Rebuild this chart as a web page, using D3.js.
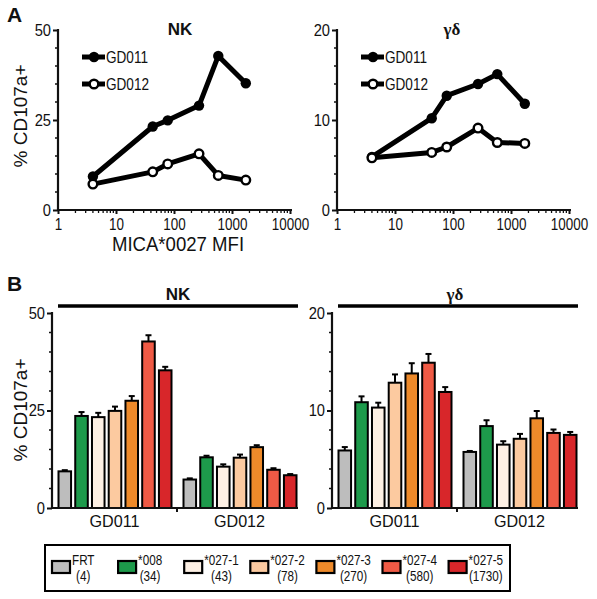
<!DOCTYPE html>
<html><head><meta charset="utf-8">
<script src="https://cdn.jsdelivr.net/npm/d3@7"></script>
<style>
body{margin:0;background:#fff}
text{font-family:"Liberation Sans",Arial,sans-serif;fill:#111}
</style>
</head><body>
<svg id="c" width="597" height="599"></svg>
<script>
// ---------- DATA ----------
const mfiX = [4, 43, 78, 270, 580, 1730];
const nkLine011 = [9.3, 23.2, 24.9, 29.0, 42.8, 35.2];
const nkLine012 = [7.2, 10.6, 12.8, 15.6, 9.6, 8.3];
const gdLine011 = [5.9, 10.2, 12.7, 14.0, 15.1, 11.8];
const gdLine012 = [5.8, 6.4, 7.0, 9.1, 7.5, 7.4];
const logTicks = [1, 10, 100, 1000, 10000];

const categories = ["FRT", "*008", "*027-1", "*027-2", "*027-3", "*027-4", "*027-5"];
const mfiLabels = ["(4)", "(34)", "(43)", "(78)", "(270)", "(580)", "(1730)"];
const donors = ["GD011", "GD012"];
const colors = ["#bdbdbd", "#1d9a4b", "#fdf0e4", "#fccaa0", "#ee8a2a", "#ef5a45", "#d8262a"];

const nkBar011 = [9.4, 23.6, 23.3, 24.9, 27.5, 42.7, 35.3];
const nkErr011 = [0.3, 1.0, 1.1, 1.1, 1.2, 1.6, 0.9];
const nkBar012 = [7.3, 13.0, 10.6, 12.9, 15.6, 9.8, 8.4];
const nkErr012 = [0.3, 0.4, 0.6, 0.8, 0.5, 0.4, 0.3];
const gdBar011 = [5.9, 10.85, 10.3, 12.85, 13.8, 14.9, 11.9];
const gdErr011 = [0.35, 0.6, 0.5, 0.85, 1.05, 0.9, 0.5];
const gdBar012 = [5.75, 8.4, 6.5, 7.1, 9.2, 7.7, 7.5];
const gdErr012 = [0.1, 0.6, 0.35, 0.5, 0.75, 0.35, 0.3];

const nkTicks = [0, 25, 50];
const gdTicks = [0, 10, 20];

// ---------- DRAW ----------
const svg = d3.select("#c");

function T(parent, x, y, str, size, sx, anchor, weight, family) {
  const t = parent.append("text")
    .attr("transform", `translate(${x},${y}) scale(${sx},1)`)
    .attr("text-anchor", anchor || "start")
    .style("font-size", size + "px")
    .text(str);
  if (weight) t.style("font-weight", weight);
  if (family) t.style("font-family", family);
  return t;
}

function squeezeAxisText(sel, fs, sx) {
  sel.selectAll("text").each(function () {
    const t = d3.select(this);
    const x = +t.attr("x") || 0, y = +t.attr("y") || 0;
    t.attr("x", 0).attr("y", 0)
      .attr("transform", `translate(${x},${y}) scale(${sx},1)`)
      .style("font-size", fs + "px").attr("fill", "#111");
  });
}

function yAxis(g, y, x0, majors, minorStep, max) {
  const minors = d3.range(0, max + 0.001, minorStep).filter(v => !majors.includes(v));
  const ax = d3.axisLeft(y).tickValues(majors).tickSize(5).tickPadding(2).tickFormat(d3.format("d"));
  const a = g.append("g").attr("transform", `translate(${x0},0)`).call(ax);
  a.select(".domain").remove();
  a.selectAll("line").attr("stroke", "#111").attr("stroke-width", 2);
  squeezeAxisText(a, 16, 0.92);
  g.append("g").selectAll("line").data(minors).join("line")
    .attr("x1", x0 - 3).attr("x2", x0).attr("y1", d => y(d)).attr("y2", d => y(d))
    .attr("stroke", "#111").attr("stroke-width", 1.5);
  g.append("line").attr("x1", x0).attr("x2", x0)
    .attr("y1", y(0) + 1).attr("y2", y(max) - 1)
    .attr("stroke", "#111").attr("stroke-width", 2.2);
}

function linePanel(x0, yMax, majors, minorStep, s1, s2, title, titleX, titleFamily) {
  const g = svg.append("g");
  const xs = d3.scaleLog().domain([1, 10000]).range([x0, x0 + 232]);
  const ys = d3.scaleLinear().domain([0, yMax]).range([210, 30]);
  yAxis(g, ys, x0, majors, minorStep, yMax);
  const ax = d3.axisBottom(xs).tickValues(logTicks).tickSize(4).tickPadding(5).tickFormat(d3.format("d"));
  const a = g.append("g").attr("transform", "translate(0,210)").call(ax);
  a.select(".domain").remove();
  a.selectAll("line").attr("stroke", "#111").attr("stroke-width", 2);
  squeezeAxisText(a, 16, 0.84);
  const minors = [];
  for (let d = 1; d < 10000; d *= 10) for (let k = 2; k <= 9; k++) minors.push(d * k);
  g.append("g").selectAll("line").data(minors).join("line")
    .attr("x1", d => xs(d)).attr("x2", d => xs(d)).attr("y1", 210).attr("y2", 213)
    .attr("stroke", "#111").attr("stroke-width", 1.3);
  g.append("line").attr("x1", x0 - 1).attr("x2", x0 + 234).attr("y1", 210).attr("y2", 210)
    .attr("stroke", "#111").attr("stroke-width", 2.2);

  const line = d3.line().x((d, i) => xs(mfiX[i])).y(d => ys(d));
  [s1, s2].forEach(s => {
    g.append("path").datum(s).attr("d", line).attr("fill", "none")
      .attr("stroke", "#000").attr("stroke-width", 5).attr("stroke-linejoin", "round");
  });
  [s1, s2].forEach((s, k) => {
    g.append("g").selectAll("circle").data(s).join("circle")
      .attr("cx", (d, i) => xs(mfiX[i])).attr("cy", d => ys(d))
      .attr("r", k === 0 ? 5.2 : 4.3)
      .attr("fill", k === 0 ? "#000" : "#fff")
      .attr("stroke", "#000").attr("stroke-width", k === 0 ? 0 : 2.4);
  });
  const lx = x0 + 24;
  donors.forEach((dn, k) => {
    const ly = 57 + k * 27;
    g.append("line").attr("x1", lx).attr("x2", lx + 23).attr("y1", ly).attr("y2", ly)
      .attr("stroke", "#000").attr("stroke-width", 5);
    g.append("circle").attr("cx", lx + 12).attr("cy", ly)
      .attr("r", k === 0 ? 5.2 : 4.3).attr("fill", k === 0 ? "#000" : "#fff")
      .attr("stroke", "#000").attr("stroke-width", k === 0 ? 0 : 2.4);
    T(g, lx + 24, ly + 6, dn, 16, 0.85);
  });
  T(g, titleX, 35, title, 17, 1, "middle", "bold", titleFamily);
}

function barPanel(x0, yMax, majors, minorStep, v1, e1, v2, e2, title, titleX, titleFamily) {
  const g = svg.append("g");
  const ys = d3.scaleLinear().domain([0, yMax]).range([508, 313]);
  const xg = d3.scaleBand().domain(donors).range([x0, x0 + 250]);
  const xb = d3.scaleBand().domain(categories).range([5.5, 120.5]).paddingInner(0.13);
  yAxis(g, ys, x0, majors, minorStep, yMax);
  const vals = [v1, v2], errs = [e1, e2];
  donors.forEach((dn, gi) => {
    const gg = g.append("g").attr("transform", `translate(${xg(dn)},0)`);
    const bw = xb.bandwidth();
    gg.selectAll("rect").data(vals[gi]).join("rect")
      .attr("x", (d, i) => xb(categories[i]) + 1).attr("width", bw - 2)
      .attr("y", d => ys(d)).attr("height", d => ys(0) - ys(d))
      .attr("fill", (d, i) => colors[i]).attr("stroke", "#000").attr("stroke-width", 2);
    gg.selectAll("line.eb").data(vals[gi]).join("line").attr("class", "eb")
      .attr("x1", (d, i) => xb(categories[i]) + bw / 2).attr("x2", (d, i) => xb(categories[i]) + bw / 2)
      .attr("y1", d => ys(d)).attr("y2", (d, i) => ys(d + errs[gi][i]))
      .attr("stroke", "#000").attr("stroke-width", 2);
    gg.selectAll("line.cap").data(vals[gi]).join("line").attr("class", "cap")
      .attr("x1", (d, i) => xb(categories[i]) + bw / 2 - 3).attr("x2", (d, i) => xb(categories[i]) + bw / 2 + 3)
      .attr("y1", (d, i) => ys(d + errs[gi][i])).attr("y2", (d, i) => ys(d + errs[gi][i]))
      .attr("stroke", "#000").attr("stroke-width", 2);
    T(gg, xg.bandwidth() / 2, 527, dn, 17, 0.95, "middle");
  });
  g.append("line").attr("x1", x0 - 1).attr("x2", x0 + 246).attr("y1", 508).attr("y2", 508)
    .attr("stroke", "#111").attr("stroke-width", 2.2);
  g.append("line").attr("x1", xg("GD012")).attr("x2", xg("GD012")).attr("y1", 508).attr("y2", 512)
    .attr("stroke", "#111").attr("stroke-width", 2);
  g.append("line").attr("x1", x0 + 6).attr("x2", x0 + 246).attr("y1", 306).attr("y2", 306)
    .attr("stroke", "#000").attr("stroke-width", 3.5);
  T(g, titleX, 300, title, 17, 1, "middle", "bold", titleFamily);
}

const GREEK = "'Liberation Serif','DejaVu Serif',serif";
linePanel(58, 50, nkTicks, 5, nkLine011, nkLine012, "NK", 180);
linePanel(337, 20, gdTicks, 2, gdLine011, gdLine012, "γδ", 452, GREEK);
barPanel(52, 50, nkTicks, 5, nkBar011, nkErr011, nkBar012, nkErr012, "NK", 178);
barPanel(332, 20, gdTicks, 2, gdBar011, gdErr011, gdBar012, gdErr012, "γδ", 455, GREEK);

// axis titles
svg.append("text").attr("transform", "translate(27,116) rotate(-90)").attr("text-anchor", "middle")
  .style("font-size", "19px").text("% CD107a+");
svg.append("text").attr("transform", "translate(27,410) rotate(-90)").attr("text-anchor", "middle")
  .style("font-size", "19px").text("% CD107a+");
T(svg, 178, 251, "MICA*0027 MFI", 20, 0.93, "middle");
T(svg, 7, 22, "A", 21, 1, "start", "bold");
T(svg, 7, 291, "B", 21, 1, "start", "bold");

// legend
const leg = svg.append("g");
leg.append("rect").attr("x", 45).attr("y", 545).attr("width", 465).attr("height", 46)
  .attr("fill", "#fff").attr("stroke", "#000").attr("stroke-width", 2);
const lxs = d3.scaleBand().domain(categories).range([52, 52 + 66.1 * 7]);
const LSX = 0.78;
categories.forEach((c, i) => {
  const x = lxs(c);
  leg.append("rect").attr("x", x).attr("y", 561).attr("width", 18).attr("height", 12)
    .attr("fill", colors[i]).attr("stroke", "#000").attr("stroke-width", 2.2);
  const t1 = T(leg, x + 20, 565, c, 15, LSX);
  const w = t1.node().getComputedTextLength() * LSX;
  T(leg, x + 20 + w / 2, 581, mfiLabels[i], 15, LSX, "middle");
});
</script>
</body></html>
